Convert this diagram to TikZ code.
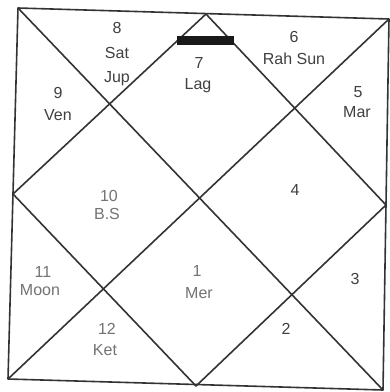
\documentclass[tikz,border=0pt]{standalone}
\usepackage{fontspec}
\setmainfont{Liberation Sans}
\begin{document}
\begin{tikzpicture}[x=1pt,y=-1pt,
  chartline/.style={draw=black!80,line width=1.6pt,line join=round},
  lbl/.style={text=black!75,font=\fontsize{16}{18}\selectfont,inner sep=0pt,anchor=center},
  faint/.style={lbl,text=black!55}]
\useasboundingbox (0,0) rectangle (390,392);
\fill[white] (0,0) rectangle (390,392);
% corners
\coordinate (TL) at (18,8);
\coordinate (TR) at (389,19);
\coordinate (BL) at (8,379);
\coordinate (BR) at (383,390);
\coordinate (T) at (206,14);
\coordinate (B) at (196,386);
\coordinate (L) at (13,194);
\coordinate (R) at (386,205);
\draw[chartline] (TL) -- (TR) -- (BR) -- (BL) -- cycle;
\draw[chartline] (TL) -- (BR);
\draw[chartline] (TR) -- (BL);
\draw[chartline] (T) -- (R) -- (B) -- (L) -- cycle;
% thick bar
\fill[black!90] (177,36) rectangle (234,45);
% labels
\node[lbl] (n8) at (117,28) {8};
\node[lbl] (sat) at (117,53) {Sat};
\node[lbl] (jup) at (117,79) {Jup};
\node[lbl] (n9) at (58,93) {9};
\node[lbl] (ven) at (58,115) {Ven};
\node[lbl] (n7) at (199,63) {7};
\node[lbl] (lag) at (198,86) {Lag};
\node[lbl] (n6) at (294,37) {6};
\node[lbl] (rahsun) at (294,59) {Rah Sun};
\node[lbl] (n5) at (358,92) {5};
\node[lbl] (mar) at (357,112) {Mar};
\node[lbl] (n4) at (295,190) {4};
\node[faint] (n10) at (109,196) {10};
\node[faint] (bs) at (107,214) {B.S};
\node[faint] (n11) at (43,272) {11};
\node[faint] (moon) at (40,290) {Moon};
\node[faint] (n1) at (197,271) {1};
\node[faint] (mer) at (199,293) {Mer};
\node[faint] (n12) at (107,329) {12};
\node[faint] (ket) at (105,350) {Ket};
\node[lbl] (n2) at (286,329) {2};
\node[lbl] (n3) at (355,279) {3};
\end{tikzpicture}
\end{document}
